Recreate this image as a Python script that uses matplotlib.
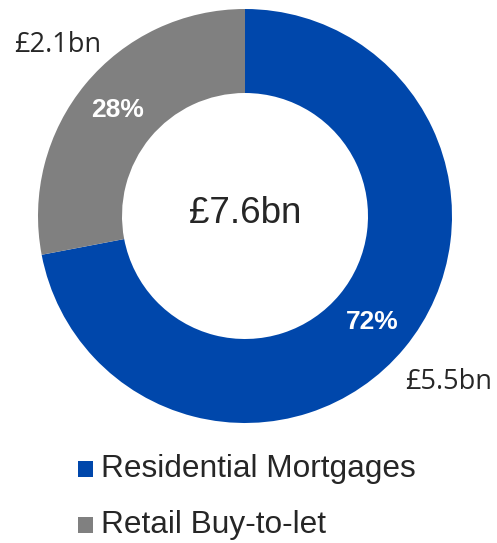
import matplotlib
matplotlib.use("Agg")
import matplotlib.pyplot as plt
from matplotlib.patches import Rectangle

categories = ["Residential Mortgages", "Retail Buy-to-let"]
values = [5.5, 2.1]
shares = [72, 28]
value_labels = ["£5.5bn", "£2.1bn"]
total_label = "£7.6bn"
colors = ["#0047AB", "#808080"]

W, H = 497, 543
fig = plt.figure(figsize=(W / 100, H / 100), dpi=100)

cx, cy, R = 245, 216, 207
ax = fig.add_axes([(cx - R) / W, (H - cy - R) / H, 2 * R / W, 2 * R / H])

wedges, _, autotexts = ax.pie(
    shares, colors=colors, startangle=90, counterclock=False, radius=1,
    wedgeprops=dict(width=1 - 123 / 207, linewidth=0),
    autopct=lambda p: f"{p:.0f}%", pctdistance=0.80,
)
ax.set_xlim(-1, 1)
ax.set_ylim(-1, 1)
ax.set_aspect("equal")
ax.axis("off")
for t in autotexts:
    t.set_color("white")
    t.set_fontsize(19)
    t.set_fontweight("bold")
    t.set_fontfamily("Liberation Sans")

ax.text(0, 0.01, total_label, ha="center", va="center", fontsize=26.5,
        color="#262626", family="Liberation Sans")

label_pos = [(0.986, -0.802), (-0.903, 0.826)]
for (x, y), lab in zip(label_pos, value_labels):
    ax.text(x, y, lab, ha="center", va="center", fontsize=19.5,
            color="#262626", family="Open Sans")

leg_y = [469, 525]
for c, lab, y in zip(colors, categories, leg_y):
    fig.patches.append(Rectangle((78 / W, (H - y - 8) / H), 15 / W, 16 / H,
                                 transform=fig.transFigure, color=c, linewidth=0))
    fig.text(101 / W, (H - y) / H, lab, ha="left", va="center", fontsize=22.8,
             color="#262626", family="Liberation Sans")

fig.savefig("out.png", dpi=100)
